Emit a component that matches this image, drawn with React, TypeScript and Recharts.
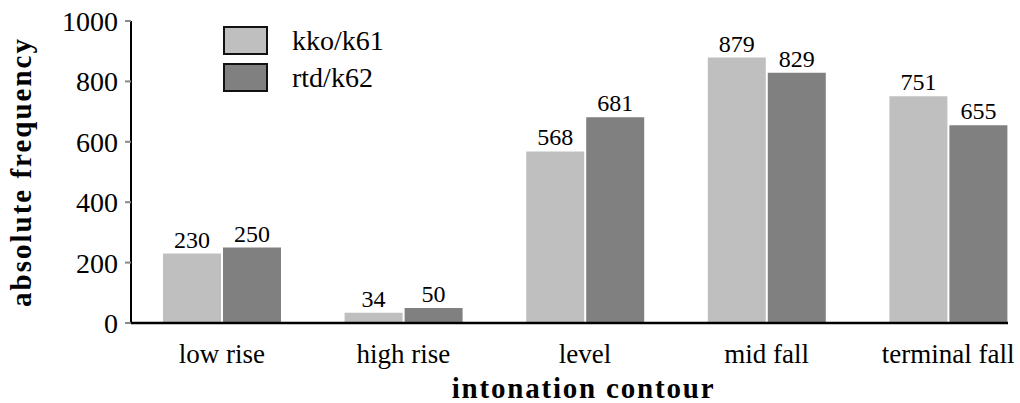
import { BarChart, Bar, XAxis, YAxis, Legend, LabelList } from "recharts";

const contours = ["low rise", "high rise", "level", "mid fall", "terminal fall"];
const kko = [230, 34, 568, 879, 751];
const rtd = [250, 50, 681, 829, 655];
const yTicks = [0, 200, 400, 600, 800, 1000];

const seriesNames = ["kko/k61", "rtd/k62"];
const colors = ["#bfbfbf", "#808080"];

const data = contours.map((c, i) => ({ contour: c, kko: kko[i], rtd: rtd[i] }));

const font = "Liberation Serif";

function renderLegend(props: any) {
  const { payload } = props;
  return (
    <div style={{ fontFamily: font }}>
      {payload.map((entry: any) => (
        <div
          key={entry.value}
          style={{ display: "flex", alignItems: "center", height: 37 }}
        >
          <div
            style={{
              width: 41,
              height: 25,
              background: entry.color,
              border: "2px solid #111",
              marginRight: 24,
            }}
          />
          <span style={{ fontSize: 28, color: "#000" }}>{entry.value}</span>
        </div>
      ))}
    </div>
  );
}

export default function App() {
  return (
    <div style={{ position: "fixed", left: 0, top: 0, background: "#fff" }}>
      <BarChart
        width={1020}
        height={403}
        data={data}
        margin={{ top: 21, right: 12, bottom: 0, left: 0 }}
        barSize={58}
        barGap={2}
      >
        <XAxis
          dataKey="contour"
          height={80}
          padding={{ left: 0, right: -31 }}
          tickLine={false}
          tickSize={0}
          tickMargin={21}
          axisLine={{ stroke: "#000", strokeWidth: 2.5 }}
          tick={{ fontFamily: font, fontSize: 27, fill: "#000" }}
          label={{
            value: "intonation contour",
            position: "insideBottom",
            offset: 5,
            dx: 14,
            style: {
              fontFamily: font,
              fontSize: 29,
              fontWeight: "bold",
              letterSpacing: 1.8,
              fill: "#000",
            },
          }}
        />
        <YAxis
          width={131}
          domain={[0, 1000]}
          ticks={yTicks}
          interval={0}
          tickSize={6}
          tickMargin={7}
          axisLine={{ stroke: "#000", strokeWidth: 2 }}
          tickLine={{ stroke: "#888", strokeWidth: 2 }}
          tick={{ fontFamily: font, fontSize: 28, fill: "#000" }}
          label={{
            value: "absolute frequency",
            angle: -90,
            position: "insideLeft",
            offset: 21,
            style: {
              textAnchor: "middle",
              fontFamily: font,
              fontSize: 29,
              fontWeight: "bold",
              letterSpacing: 2,
              fill: "#000",
            },
          }}
        />
        <Legend
          content={renderLegend}
          layout="horizontal"
          verticalAlign="middle"
          align="center"
          wrapperStyle={{ left: 223, top: 22, width: 200 }}
        />
        <Bar dataKey="kko" name={seriesNames[0]} fill={colors[0]} isAnimationActive={false}>
          <LabelList
            dataKey="kko"
            position="top"
            offset={6}
            style={{ fontFamily: font, fontSize: 24, fill: "#000" }}
          />
        </Bar>
        <Bar dataKey="rtd" name={seriesNames[1]} fill={colors[1]} isAnimationActive={false}>
          <LabelList
            dataKey="rtd"
            position="top"
            offset={6}
            style={{ fontFamily: font, fontSize: 24, fill: "#000" }}
          />
        </Bar>
      </BarChart>
    </div>
  );
}
